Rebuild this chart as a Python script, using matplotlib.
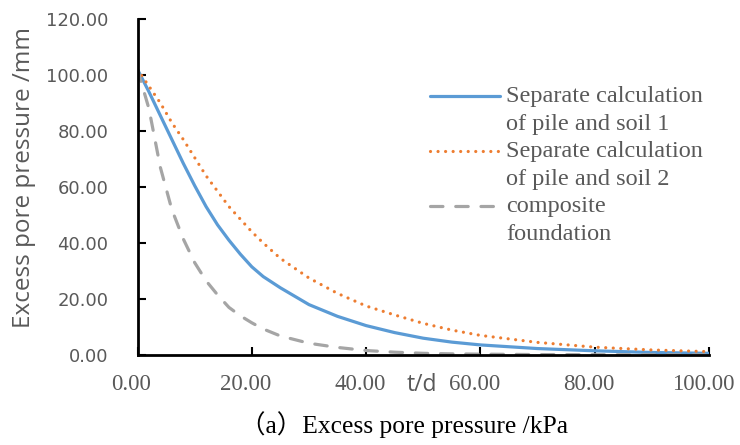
import numpy as np
import matplotlib
matplotlib.use("Agg")
import matplotlib.pyplot as plt
import matplotlib.transforms as mtransforms
from matplotlib.legend_handler import HandlerLine2D
from matplotlib.lines import Line2D

# ---- data ----
t_days = [0, 2, 4, 6, 8, 10, 12, 14, 16, 18, 20, 22, 25, 30, 35, 40, 45, 50, 55, 60, 70, 80, 90, 100]
sep1 = [102, 94, 85.5, 77, 68.5, 60.5, 53, 46.5, 41, 36, 31.5, 28, 24, 18, 13.8, 10.5, 8, 6, 4.6, 3.6, 2.3, 1.5, 0.9, 0.6]
sep2 = [102, 96, 90, 83, 77, 70.5, 64, 58.5, 53, 48.5, 44, 40, 34.5, 27.5, 22, 17.5, 14.3, 11.3, 8.9, 7.0, 4.5, 2.8, 1.8, 1.2]
comp = [102, 88, 67, 52, 41.5, 33, 26.5, 21.5, 17, 14, 11.5, 9.3, 6.8, 4.2, 2.7, 1.6, 1.0, 0.6, 0.4, 0.3, 0.15, 0.1, 0.05, 0.03]
series_labels = ["Separate calculation\nof pile and soil 1",
                 "Separate calculation\nof pile and soil 2",
                 "composite\nfoundation"]
x_ticks = [0, 20, 40, 60, 80, 100]
y_ticks = [0, 20, 40, 60, 80, 100, 120]
x_label = "t/d"
y_label = "Excess pore pressure /mm"
caption = "（a）Excess pore pressure /kPa"

GRAY = "#595959"

fig = plt.figure(figsize=(7.4, 4.45), dpi=100)
ax = fig.add_axes([137.5 / 740, 1 - 355 / 445, (709 - 137.5) / 740, (355 - 19) / 445])

ax.plot(t_days, sep1, color="#5B9BD5", lw=2.3, solid_capstyle="round", label=series_labels[0])
ax.plot(t_days, sep2, color="#ED7D31", lw=2.3, linestyle=(0, (0.01, 2.35)),
        dash_capstyle="round", label=series_labels[1])
ax.plot(t_days, comp, color="#A5A5A5", lw=2.3, linestyle=(0, (3.9, 4.0)),
        dash_capstyle="round", label=series_labels[2])

ax.set_xlim(0, 100)
ax.set_ylim(0, 120)
ax.set_xticks(x_ticks)
ax.set_yticks(y_ticks)
ax.set_xticklabels([f"{v:.2f}" for v in x_ticks], family="Liberation Serif", fontsize=16.5, color=GRAY)
ax.set_yticklabels([f"{v:.2f}" for v in y_ticks], family="DejaVu Sans", fontsize=13, color=GRAY)
ax.tick_params(axis="both", direction="in", length=6, width=1.5, color="black")
ax.tick_params(axis="y", pad=21)
ax.tick_params(axis="x", pad=14)
shift = mtransforms.ScaledTranslation(-6 / 100, 0, fig.dpi_scale_trans)
for lbl in ax.get_xticklabels():
    lbl.set_transform(lbl.get_transform() + shift)
for s in ["top", "right"]:
    ax.spines[s].set_visible(False)
for s in ["left", "bottom"]:
    ax.spines[s].set_linewidth(2)
    ax.spines[s].set_color("black")


class UpHandler(HandlerLine2D):
    def __init__(self, shift, **kw):
        super().__init__(**kw)
        self.shift = shift

    def create_artists(self, legend, orig_handle, xdescent, ydescent, width, height, fontsize, trans):
        arts = super().create_artists(legend, orig_handle, xdescent, ydescent, width, height, fontsize, trans)
        for a in arts:
            if isinstance(a, Line2D):
                a.set_ydata(np.asarray(a.get_ydata()) + self.shift)
        return arts


handles = ax.get_lines()
hmap = {h: UpHandler(10.3) for h in handles}
leg = ax.legend(handles=handles, loc="upper left", bbox_to_anchor=(430 / 740, 1 - 86 / 445),
                bbox_transform=fig.transFigure, frameon=False, borderpad=0, borderaxespad=0,
                handlelength=2.88, handletextpad=0.25, labelspacing=0.26,
                prop={"family": "Liberation Serif", "size": 17.5}, handler_map=hmap)
for tx in leg.get_texts():
    tx.set_color(GRAY)
    tx.set_linespacing(1.42)

fig.text(24 / 740, 1 - 177 / 445, y_label, rotation=90, ha="center", va="center",
         family="Open Sans", fontsize=17.5, color=GRAY)
fig.text(422 / 740, 1 - 385 / 445, x_label, ha="center", va="center",
         family="Open Sans", fontsize=16.5, color=GRAY)
fig.text(404 / 740, 1 - 425 / 445, caption, ha="center", va="center",
         family=["Liberation Serif", "Noto Sans CJK SC"], fontsize=18.4, color="black")

fig.savefig("out.png", dpi=100)
